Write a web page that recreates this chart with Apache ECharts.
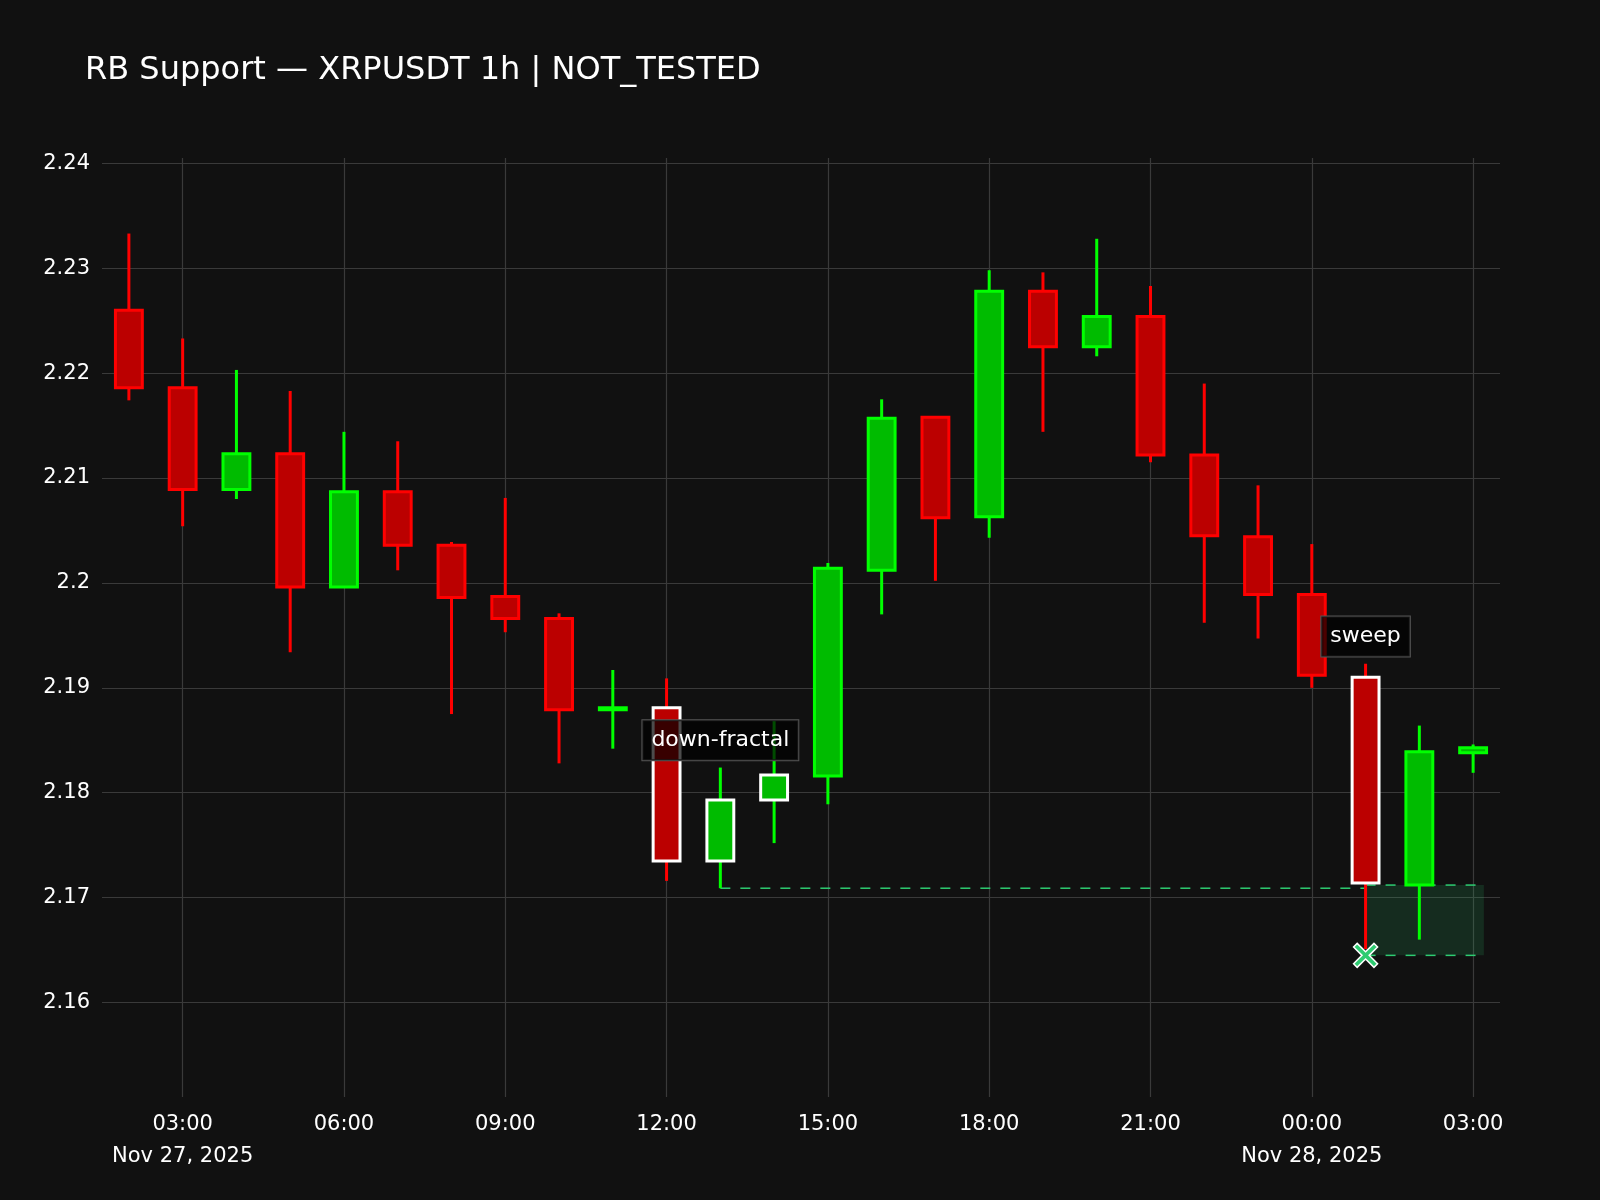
<!DOCTYPE html>
<html>
<head>
<meta charset="utf-8">
<script src="https://cdn.jsdelivr.net/npm/echarts@6/dist/echarts.min.js"></script>
<style>html,body{margin:0;background:#111111;}#main{width:1600px;height:1200px;}</style>
</head>
<body>
<div id="main"></div>
<script>
// hours since Nov 27, 2025 00:00
var hours = [2,3,4,5,6,7,8,9,10,11,12,13,14,15,16,17,18,19,20,21,22,23,24,25,26,27];
var opens  = [2.2260,2.2186,2.2089,2.2123,2.1996,2.2087,2.2036,2.1987,2.1966,2.1880,2.1881,2.1735,2.1793,2.1816,2.2012,2.2158,2.2063,2.2278,2.2225,2.2254,2.2122,2.2044,2.1989,2.1910,2.1712,2.1838];
var closes = [2.2186,2.2089,2.2123,2.1996,2.2087,2.2036,2.1986,2.1966,2.1879,2.1881,2.1735,2.1793,2.1817,2.2014,2.2157,2.2062,2.2278,2.2225,2.2254,2.2122,2.2045,2.1989,2.1912,2.1714,2.1839,2.1843];
var highs  = [2.2333,2.2233,2.2203,2.2183,2.2144,2.2135,2.2039,2.2081,2.1971,2.1917,2.1909,2.1824,2.1869,2.2019,2.2175,2.2158,2.2298,2.2296,2.2328,2.2283,2.2190,2.2093,2.2037,2.1923,2.1864,2.1846];
var lows   = [2.2174,2.2054,2.2080,2.1934,2.1996,2.2012,2.1875,2.1953,2.1828,2.1842,2.1716,2.1709,2.1752,2.1789,2.1970,2.2002,2.2043,2.2144,2.2216,2.2115,2.1962,2.1947,2.1900,2.1651,2.1660,2.1819];
var highlighted = [12,13,14,25];

var fractalLevel = 2.1709, fractalStart = 13, fractalEnd = 25;
var zoneTop = 2.1712, zoneBottom = 2.1645, zoneStart = 25, zoneEnd = 27.2;
var sweepLow = [25, 2.1645];
var notes = [[13, 2.1850, 'down-fractal'], [25, 2.1949, 'sweep']];

var candles = hours.map(function (h, i) { return [h, opens[i], closes[i], lows[i], highs[i]]; });

var myChart = echarts.init(document.getElementById('main'));
var option = {
    backgroundColor: '#111111',
    animation: false,
    title: {
        text: 'RB Support — XRPUSDT 1h | NOT_TESTED',
        left: 80, top: 50,
        textStyle: { color: '#ffffff', fontSize: 32, fontWeight: 'normal', fontFamily: 'DejaVu Sans' }
    },
    grid: { left: 102, right: 100, top: 158, bottom: 103 },
    xAxis: {
        type: 'value', min: 1.5, max: 27.5, interval: 1.5,
        axisLine: { show: false }, axisTick: { show: false },
        splitLine: { show: true, lineStyle: { color: ['transparent', '#3a3a3a'], width: 1.2 } },
        axisLabel: {
            color: '#ffffff', fontSize: 21, fontFamily: 'DejaVu Sans', lineHeight: 32, margin: 12,
            showMinLabel: false, showMaxLabel: false,
            formatter: function (v) {
                if (Math.abs(v % 3) > 1e-6) return '';
                var hh = v % 24;
                var s = (hh < 10 ? '0' : '') + hh + ':00';
                if (v === 3) s += '\nNov 27, 2025';
                if (v === 24) s += '\nNov 28, 2025';
                return s;
            }
        }
    },
    yAxis: {
        type: 'value', min: 2.151, max: 2.2405, interval: 0.001,
        axisLine: { show: false }, axisTick: { show: false },
        splitLine: { show: true, lineStyle: { width: 1.2, color: ['transparent','transparent','transparent','transparent','transparent','transparent','transparent','transparent','transparent','#3a3a3a'] } },
        axisLabel: {
            color: '#ffffff', fontSize: 21, fontFamily: 'DejaVu Sans', margin: 12,
            showMinLabel: false, showMaxLabel: false,
            formatter: function (v) {
                var c = v * 100;
                if (Math.abs(c - Math.round(c)) > 1e-6) return '';
                return String(+v.toFixed(2));
            }
        }
    },
    series: [
        {
            type: 'line', data: [[fractalStart, fractalLevel], [fractalEnd, fractalLevel]],
            symbol: 'none', lineStyle: { color: '#2ecc71', width: 1.5, type: [10, 10] }, z: 2
        },
        {
            type: 'line', data: [[zoneStart, zoneTop], [zoneEnd, zoneTop]],
            symbol: 'none', lineStyle: { color: '#2ecc71', width: 1.5, type: [10, 10] }, z: 2,
            markArea: {
                silent: true,
                itemStyle: { color: 'rgba(46,204,113,0.15)' },
                data: [[{ coord: [zoneStart, zoneTop] }, { coord: [zoneEnd, zoneBottom] }]]
            }
        },
        {
            type: 'line', data: [[zoneStart, zoneBottom], [zoneEnd, zoneBottom]],
            symbol: 'none', lineStyle: { color: '#2ecc71', width: 1.5, type: [10, 10] }, z: 2
        },
        {
            type: 'custom', data: candles, z: 5,
            renderItem: function (params, api) {
                var i = params.dataIndex;
                var x = api.value(0), o = api.value(1), c = api.value(2), l = api.value(3), h = api.value(4);
                var up = c >= o;
                var stroke = up ? '#00ff00' : '#ff0000';
                var fill = up ? '#00bb00' : '#bb0000';
                var pHi = api.coord([x, h]), pLo = api.coord([x, l]);
                var pTop = api.coord([x, Math.max(o, c)]), pBot = api.coord([x, Math.min(o, c)]);
                var w = api.size([1, 0])[0] * 0.5;
                var border = highlighted.indexOf(hours[i]) >= 0 ? '#ffffff' : stroke;
                return {
                    type: 'group',
                    children: [
                        { type: 'line', shape: { x1: pHi[0], y1: pHi[1], x2: pLo[0], y2: pLo[1] }, style: { stroke: stroke, lineWidth: 3 } },
                        { type: 'rect', shape: { x: pTop[0] - w / 2, y: pTop[1], width: w, height: Math.max(pBot[1] - pTop[1], 2) },
                          style: { fill: fill, stroke: border, lineWidth: 3 } }
                    ]
                };
            }
        },
        {
            type: 'scatter', data: [sweepLow], z: 10,
            symbol: 'path://M3,0 L10,7 L17,0 L20,3 L13,10 L20,17 L17,20 L10,13 L3,20 L0,17 L7,10 L0,3 Z',
            symbolSize: 24,
            itemStyle: { color: '#2ecc71', opacity: 1, borderColor: '#ffffff', borderWidth: 1.5 }
        },
        {
            type: 'scatter', symbolSize: 0, z: 12,
            data: notes.map(function (n) { return { value: [n[0], n[1]], name: n[2] }; }),
            itemStyle: { opacity: 1 },
            label: {
                show: true, position: 'inside', formatter: '{b}',
                color: '#ffffff', fontSize: 22, fontFamily: 'DejaVu Sans',
                backgroundColor: 'rgba(0,0,0,0.7)', borderColor: '#555555', borderWidth: 1,
                padding: [9, 9]
            }
        }
    ]
};
myChart.setOption(option);
</script>
</body>
</html>
